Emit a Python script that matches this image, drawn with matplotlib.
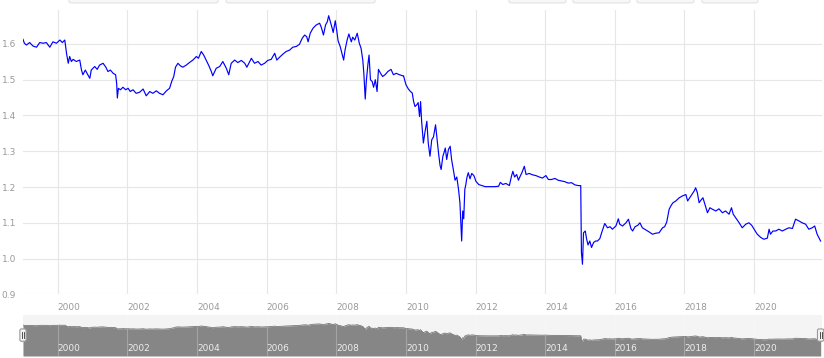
import matplotlib
matplotlib.use("Agg")
import matplotlib.pyplot as plt
from matplotlib.patches import FancyBboxPatch
from matplotlib.transforms import blended_transform_factory

# EUR/CHF (decimal years)
years = [
    1999.00, 1999.04, 1999.10, 1999.19, 1999.29, 1999.39, 1999.48, 1999.58, 1999.67, 1999.77,
    1999.86, 1999.96, 2000.06, 2000.13, 2000.20, 2000.25, 2000.30, 2000.34, 2000.39, 2000.44,
    2000.53, 2000.63, 2000.68, 2000.72, 2000.79, 2000.85, 2000.92, 2000.96, 2001.06, 2001.13,
    2001.20, 2001.30, 2001.38, 2001.44, 2001.51, 2001.59, 2001.66, 2001.69, 2001.71, 2001.74,
    2001.80, 2001.87, 2001.95, 2002.02, 2002.08, 2002.16, 2002.25, 2002.35, 2002.45, 2002.54,
    2002.64, 2002.73, 2002.83, 2002.92, 2003.02, 2003.12, 2003.21, 2003.27, 2003.33, 2003.38,
    2003.45, 2003.52, 2003.59, 2003.69, 2003.78, 2003.88, 2003.98, 2004.04, 2004.12, 2004.19,
    2004.26, 2004.33, 2004.41, 2004.45, 2004.55, 2004.65, 2004.74, 2004.84, 2004.91, 2004.98,
    2005.08, 2005.17, 2005.27, 2005.37, 2005.43, 2005.56, 2005.65, 2005.75, 2005.84, 2005.94,
    2006.03, 2006.13, 2006.23, 2006.29, 2006.37, 2006.47, 2006.56, 2006.66, 2006.75, 2006.85,
    2006.94, 2007.02, 2007.09, 2007.15, 2007.19, 2007.25, 2007.33, 2007.42, 2007.52, 2007.57,
    2007.63, 2007.69, 2007.74, 2007.78, 2007.83, 2007.88, 2007.91, 2007.97, 2008.01, 2008.05,
    2008.11, 2008.16, 2008.21, 2008.25, 2008.31, 2008.36, 2008.43, 2008.47, 2008.53, 2008.60,
    2008.66, 2008.71, 2008.76, 2008.79, 2008.83, 2008.86, 2008.91, 2008.94, 2008.98, 2009.03,
    2009.07, 2009.12, 2009.17, 2009.21, 2009.27, 2009.33, 2009.40, 2009.48, 2009.57, 2009.64,
    2009.72, 2009.81, 2009.91, 2009.93, 2010.00, 2010.07, 2010.13, 2010.18, 2010.22, 2010.26,
    2010.31, 2010.35, 2010.39, 2010.42, 2010.45, 2010.50, 2010.55, 2010.60, 2010.64, 2010.69,
    2010.74, 2010.79, 2010.85, 2010.89, 2010.94, 2010.98, 2011.01, 2011.06, 2011.09, 2011.13,
    2011.17, 2011.22, 2011.27, 2011.31, 2011.36, 2011.41, 2011.46, 2011.51, 2011.55, 2011.58,
    2011.60, 2011.63, 2011.66, 2011.69, 2011.72, 2011.75, 2011.79, 2011.84, 2011.89, 2011.95,
    2012.01, 2012.09, 2012.18, 2012.28, 2012.39, 2012.54, 2012.66, 2012.71, 2012.78, 2012.87,
    2012.97, 2013.03, 2013.07, 2013.12, 2013.18, 2013.23, 2013.28, 2013.33, 2013.40, 2013.45,
    2013.54, 2013.64, 2013.73, 2013.83, 2013.92, 2014.02, 2014.09, 2014.18, 2014.28, 2014.37,
    2014.47, 2014.56, 2014.66, 2014.76, 2014.85, 2014.95, 2015.02, 2015.04, 2015.07, 2015.10,
    2015.15, 2015.19, 2015.23, 2015.28, 2015.33, 2015.39, 2015.45, 2015.50, 2015.57, 2015.62,
    2015.67, 2015.71, 2015.79, 2015.86, 2015.93, 2016.03, 2016.10, 2016.14, 2016.22, 2016.32,
    2016.39, 2016.46, 2016.51, 2016.58, 2016.66, 2016.72, 2016.79, 2016.89, 2016.99, 2017.08,
    2017.18, 2017.27, 2017.37, 2017.43, 2017.49, 2017.56, 2017.62, 2017.67, 2017.75, 2017.85,
    2017.94, 2018.04, 2018.09, 2018.15, 2018.23, 2018.28, 2018.32, 2018.37, 2018.42, 2018.47,
    2018.53, 2018.59, 2018.66, 2018.73, 2018.80, 2018.90, 2018.99, 2019.09, 2019.18, 2019.28,
    2019.35, 2019.40, 2019.47, 2019.57, 2019.66, 2019.76, 2019.85, 2019.93, 2020.00, 2020.09,
    2020.19, 2020.28, 2020.38, 2020.43, 2020.47, 2020.54, 2020.62, 2020.71, 2020.81, 2020.91,
    2021.00, 2021.10, 2021.19, 2021.29, 2021.38, 2021.48, 2021.57, 2021.67, 2021.74, 2021.81,
    2021.91,
]
rates = [
    1.613, 1.602, 1.597, 1.604, 1.594, 1.591, 1.604, 1.602, 1.604, 1.591,
    1.606, 1.602, 1.611, 1.604, 1.611, 1.574, 1.546, 1.565, 1.551, 1.557,
    1.551, 1.555, 1.527, 1.514, 1.527, 1.516, 1.504, 1.527, 1.537, 1.529,
    1.541, 1.546, 1.535, 1.523, 1.527, 1.518, 1.514, 1.490, 1.449, 1.476,
    1.472, 1.479, 1.472, 1.476, 1.467, 1.472, 1.462, 1.465, 1.474, 1.455,
    1.467, 1.462, 1.469, 1.462, 1.458, 1.469, 1.476, 1.495, 1.509, 1.535,
    1.546, 1.539, 1.535, 1.541, 1.548, 1.555, 1.565, 1.560, 1.579, 1.569,
    1.555, 1.541, 1.523, 1.511, 1.532, 1.537, 1.551, 1.532, 1.514, 1.546,
    1.555, 1.548, 1.554, 1.546, 1.535, 1.560, 1.546, 1.551, 1.541, 1.546,
    1.554, 1.557, 1.574, 1.555, 1.563, 1.572, 1.579, 1.583, 1.591, 1.593,
    1.599, 1.616, 1.625, 1.620, 1.606, 1.630, 1.644, 1.653, 1.658, 1.646,
    1.625, 1.653, 1.662, 1.679, 1.662, 1.644, 1.632, 1.665, 1.639, 1.609,
    1.593, 1.574, 1.555, 1.583, 1.611, 1.628, 1.606, 1.619, 1.611, 1.630,
    1.602, 1.588, 1.555, 1.518, 1.446, 1.495, 1.546, 1.569, 1.500, 1.495,
    1.479, 1.500, 1.467, 1.529, 1.518, 1.509, 1.514, 1.523, 1.529, 1.514,
    1.518, 1.514, 1.511, 1.511, 1.486, 1.474, 1.467, 1.463, 1.439, 1.425,
    1.430, 1.436, 1.397, 1.439, 1.384, 1.323, 1.356, 1.384, 1.323, 1.286,
    1.332, 1.340, 1.374, 1.337, 1.291, 1.260, 1.249, 1.286, 1.295, 1.309,
    1.277, 1.305, 1.314, 1.277, 1.249, 1.219, 1.228, 1.193, 1.156, 1.091,
    1.049, 1.133, 1.111, 1.193, 1.207, 1.226, 1.240, 1.223, 1.238, 1.232,
    1.216, 1.207, 1.204, 1.201, 1.201, 1.201, 1.202, 1.213, 1.207, 1.210,
    1.204, 1.230, 1.244, 1.228, 1.235, 1.219, 1.230, 1.240, 1.258, 1.235,
    1.238, 1.234, 1.232, 1.228, 1.225, 1.232, 1.221, 1.221, 1.224, 1.219,
    1.217, 1.215, 1.211, 1.212, 1.206, 1.204, 1.204, 1.017, 0.984, 1.072,
    1.077, 1.054, 1.038, 1.049, 1.031, 1.045, 1.049, 1.049, 1.056, 1.072,
    1.086, 1.098, 1.086, 1.089, 1.082, 1.091, 1.111, 1.096, 1.091, 1.100,
    1.110, 1.084, 1.077, 1.089, 1.093, 1.100, 1.086, 1.080, 1.074, 1.068,
    1.071, 1.072, 1.086, 1.089, 1.102, 1.138, 1.149, 1.156, 1.161, 1.170,
    1.175, 1.179, 1.161, 1.170, 1.182, 1.189, 1.198, 1.184, 1.156, 1.163,
    1.170, 1.151, 1.128, 1.142, 1.138, 1.133, 1.139, 1.128, 1.133, 1.124,
    1.142, 1.124, 1.114, 1.100, 1.086, 1.096, 1.100, 1.093, 1.082, 1.068,
    1.059, 1.054, 1.057, 1.082, 1.068, 1.077, 1.077, 1.082, 1.077, 1.082,
    1.086, 1.084, 1.110, 1.105, 1.100, 1.096, 1.082, 1.086, 1.091, 1.068,
    1.049,
]

year_ticks = [2000, 2002, 2004, 2006, 2008, 2010, 2012, 2014, 2016, 2018, 2020]
year_labels = [str(y) for y in year_ticks]
rate_ticks = [0.9, 1.0, 1.1, 1.2, 1.3, 1.4, 1.5, 1.6]
rate_labels = ["0.9", "1.0", "1.1", "1.2", "1.3", "1.4", "1.5", "1.6"]

W, H = 824, 358
fig = plt.figure(figsize=(W / 100, H / 100), dpi=100)
fig.patch.set_facecolor("white")

def box(x0, y0, x1, y1):
    # pixel box (top-left origin) -> figure fraction rect
    return [x0 / W, 1 - y1 / H, (x1 - x0) / W, (y1 - y0) / H]

# main chart
ax = fig.add_axes(box(23, 10, 822, 294.3))
ax.plot(years, rates, color="#0000ff", linewidth=0.85)
ax.set_xlim(1999.0, 2021.95)
ax.set_ylim(0.9, 1.695)
ax.set_xticks(year_ticks)
ax.set_xticklabels(year_labels)
ax.set_yticks(rate_ticks)
ax.set_yticklabels(rate_labels)
ax.grid(True, color="#e6e6e6", linewidth=0.8)
ax.set_axisbelow(True)
for s in ax.spines.values():
    s.set_visible(False)
ax.tick_params(axis="both", length=0, labelsize=6.5, colors="#999999")
ax.tick_params(axis="x", pad=6)
ax.tick_params(axis="y", pad=5)
for lbl in ax.get_xticklabels():
    lbl.set_horizontalalignment("left")

# navigator
nav = fig.add_axes(box(23, 315, 822, 356))
nav.set_facecolor("#f4f4f4")
nav.fill_between(years, rates, 0.43, color="#868686", linewidth=0)
nav.plot(years, rates, color="#777777", linewidth=0.6)
nav.set_xlim(1999.0, 2021.95)
nav.set_ylim(0.43, 2.0)
nav.set_yticks([])
nav.set_xticks(year_ticks)
nav.set_xticklabels(year_labels)
nav.grid(True, axis="x", color="#ffffff", alpha=0.25, linewidth=0.8)
for s in nav.spines.values():
    s.set_visible(False)
nav.tick_params(axis="x", length=0, labelsize=6.5, colors="#eeeeee", pad=-2)
for lbl in nav.get_xticklabels():
    lbl.set_horizontalalignment("left")
    lbl.set_verticalalignment("bottom")

# navigator handles
tr = blended_transform_factory(nav.transData, nav.transAxes)
for xh in (years[0], years[-1]):
    nav.add_patch(FancyBboxPatch((xh - 0.09, 0.36), 0.18, 0.30,
                                 boxstyle="round,pad=0,rounding_size=0.04",
                                 transform=tr, facecolor="#f2f2f2",
                                 edgecolor="#999999", linewidth=0.8,
                                 clip_on=False, zorder=5))
    for dx in (-0.03, 0.03):
        nav.plot([xh + dx, xh + dx], [0.43, 0.59], transform=tr,
                 color="#333333", linewidth=0.6, clip_on=False, zorder=6)

# range selector buttons cut at the top edge
for x0, x1 in [(69, 218), (226, 375), (509, 566), (573, 630), (637, 694), (702, 758)]:
    fig.patches.append(FancyBboxPatch((x0 / W, 1 - 3 / H), (x1 - x0) / W, 8 / H,
                                      boxstyle="round,pad=0,rounding_size=0.004",
                                      transform=fig.transFigure,
                                      facecolor="#f7f7f7", edgecolor="#e3e3e3",
                                      linewidth=0.8))

fig.savefig("out.png", dpi=100)
